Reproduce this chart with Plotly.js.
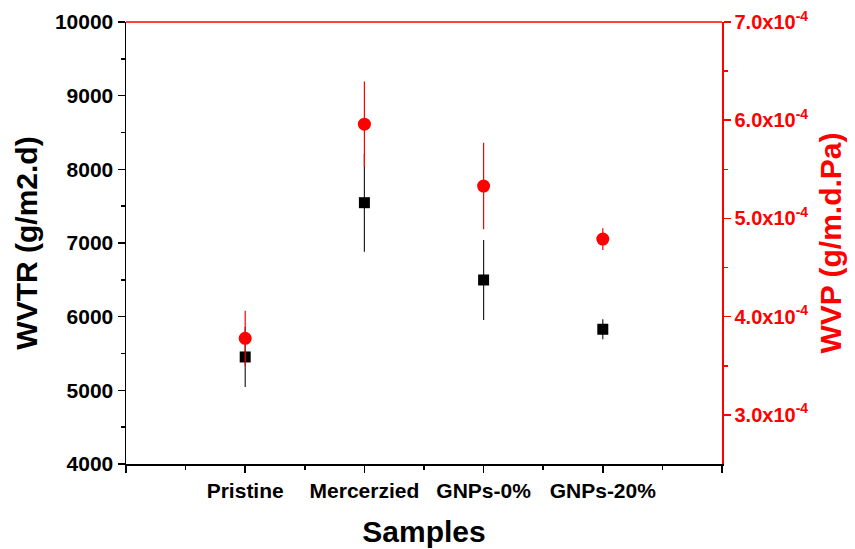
<!DOCTYPE html>
<html>
<head>
<meta charset="utf-8">
<script src="https://cdn.plot.ly/plotly-3.0.1.min.js"></script>
<style>html,body{margin:0;padding:0;background:#fff;}#chart{width:855px;height:549px;}</style>
</head>
<body>
<div id="chart"></div>
<script>
const categories = ["Pristine", "Mercerzied", "GNPs-0%", "GNPs-20%"];
const wvtr = [5453, 7547, 6498, 5829];
const wvtrErr = [408, 665, 543, 136];
const wvp = [3.78e-4, 5.96e-4, 5.33e-4, 4.79e-4];
const wvpErr = [0.28e-4, 0.434e-4, 0.44e-4, 0.11e-4];
const wvpTickVals = [3e-4, 4e-4, 5e-4, 6e-4, 7e-4];
const wvpTickText = ["3.0x10<sup>-4</sup>", "4.0x10<sup>-4</sup>", "5.0x10<sup>-4</sup>", "6.0x10<sup>-4</sup>", "7.0x10<sup>-4</sup>"];

const xpos = categories.map((c, i) => i + 1);
const FONT = "'Liberation Sans', Arial, sans-serif";

const traces = [
  {
    x: xpos, y: wvtr, type: "scatter", mode: "markers", name: "WVTR",
    marker: {symbol: "square", size: 11, color: "#000"},
    error_y: {type: "data", array: wvtrErr, visible: true, width: 0, thickness: 1.2, color: "#222"},
    yaxis: "y", showlegend: false
  },
  {
    x: xpos, y: wvp, type: "scatter", mode: "markers", name: "WVP",
    marker: {symbol: "circle", size: 13, color: "#ff0000"},
    error_y: {type: "data", array: wvpErr, visible: true, width: 0, thickness: 1.2, color: "#ff0000"},
    yaxis: "y2", showlegend: false
  }
];

const layout = {
  width: 855, height: 549,
  margin: {l: 126, r: 133, t: 22, b: 85},
  paper_bgcolor: "#fff", plot_bgcolor: "#fff",
  font: {family: FONT, size: 21, color: "#000", weight: "bold"},
  xaxis: {
    range: [0, 5], tickmode: "array",
    tickvals: [0, 1, 2, 3, 4, 5], ticktext: [""].concat(categories, [""]),
    showgrid: false, zeroline: false, showline: true, linecolor: "#000", linewidth: 1.5,
    ticks: "outside", ticklen: 7, tickwidth: 1.5, tickcolor: "#000",
    tickfont: {family: FONT, size: 21, color: "#000", weight: "bold"},
    minor: {tickmode: "array", tickvals: [0.5, 1.5, 2.5, 3.5, 4.5], ticks: "outside", ticklen: 4, tickwidth: 1.5, tickcolor: "#000", showgrid: false},
    title: {text: "Samples", font: {family: FONT, size: 30, color: "#000", weight: "bold"}, standoff: 20}
  },
  yaxis: {
    range: [4000, 10000], dtick: 1000, tick0: 0, tickformat: "d",
    showgrid: false, zeroline: false, showline: true, linecolor: "#000", linewidth: 1.5,
    ticks: "outside", ticklen: 7, tickwidth: 1.5, tickcolor: "#000",
    tickfont: {family: FONT, size: 21, color: "#000", weight: "bold"},
    minor: {dtick: 500, ticks: "outside", ticklen: 4, tickwidth: 1.5, tickcolor: "#000", showgrid: false},
    title: {text: "WVTR (g/m2.d)", font: {family: FONT, size: 30, color: "#000", weight: "bold"}, standoff: 8}
  },
  yaxis2: {
    overlaying: "y", side: "right", anchor: "x",
    range: [2.5e-4, 7.0e-4], tickmode: "array", tickvals: wvpTickVals, ticktext: wvpTickText,
    showgrid: false, zeroline: false, showline: true, linecolor: "#ff0000", linewidth: 1.5,
    ticks: "outside", ticklen: 7, tickwidth: 1.5, tickcolor: "#ff0000",
    tickfont: {family: FONT, size: 20, color: "#ff0000", weight: "bold"},
    minor: {tickmode: "array", tickvals: [3.5e-4, 4.5e-4, 5.5e-4, 6.5e-4], ticks: "outside", ticklen: 4, tickwidth: 1.5, tickcolor: "#ff0000", showgrid: false},
    title: {text: "WVP (g/m.d.Pa)", font: {family: FONT, size: 30, color: "#ff0000", weight: "bold"}, standoff: 12}
  },
  shapes: [
    {type: "line", xref: "paper", yref: "paper", x0: 0, x1: 1, y0: 1, y1: 1, line: {color: "#ff0000", width: 1.5}}
  ]
};

Plotly.newPlot("chart", traces, layout, {displayModeBar: false, staticPlot: true});
</script>
</body>
</html>
